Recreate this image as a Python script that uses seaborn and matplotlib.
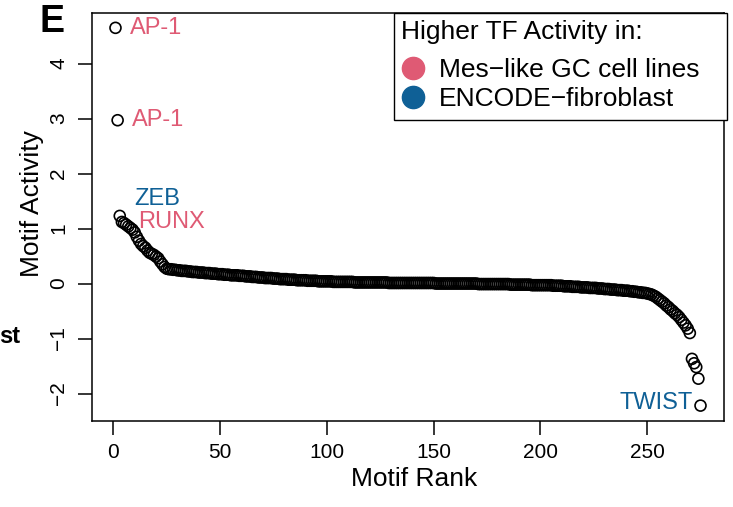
import matplotlib
matplotlib.use("Agg")  # headless
import matplotlib.pyplot as plt
from matplotlib.lines import Line2D
from matplotlib.patches import Rectangle
import seaborn as sns
import pandas as pd

sns.set_theme(style="ticks")
plt.rcParams["font.family"] = ["Liberation Sans", "DejaVu Sans"]
plt.rcParams["axes.unicode_minus"] = True
plt.rcParams["text.color"] = "black"
plt.rcParams["axes.labelcolor"] = "black"
plt.rcParams["xtick.color"] = "black"
plt.rcParams["ytick.color"] = "black"
plt.rcParams["axes.edgecolor"] = "black"

PINK = "#DF5A74"
BLUE = "#0F6096"

# motif activity, sorted by rank (1..275)
head = [4.65, 2.97, 1.23, 1.12, 1.10, 1.07, 1.04, 1.01, 0.98, 0.93,
        0.85, 0.78, 0.72, 0.68, 0.65, 0.60, 0.56, 0.54, 0.52, 0.49,
        0.46, 0.40, 0.35, 0.30, 0.27]
shoulder = [0.26, 0.26, 0.25, 0.25, 0.24, 0.24, 0.23, 0.23, 0.23, 0.22,
            0.22, 0.21, 0.21, 0.21, 0.20, 0.20, 0.20, 0.19, 0.19, 0.19,
            0.18, 0.18, 0.18, 0.17, 0.17]
early = [0.17, 0.16, 0.16, 0.16, 0.15, 0.15, 0.15, 0.15, 0.14, 0.14,
         0.14, 0.13, 0.13, 0.13, 0.12, 0.12, 0.12, 0.11, 0.11, 0.11,
         0.10, 0.10, 0.10, 0.10, 0.09, 0.09, 0.09, 0.08, 0.08, 0.08,
         0.08, 0.07, 0.07, 0.07, 0.07, 0.06, 0.06, 0.06, 0.06, 0.06,
         0.05, 0.05, 0.05, 0.05, 0.05, 0.04, 0.04, 0.04, 0.04, 0.04]
middle = [0.04, 0.04, 0.03, 0.03, 0.03, 0.03, 0.03, 0.03, 0.03, 0.03,
          0.03, 0.03, 0.02, 0.02, 0.02, 0.02, 0.02, 0.02, 0.02, 0.02,
          0.02, 0.02, 0.02, 0.02, 0.02, 0.02, 0.02, 0.02, 0.01, 0.01,
          0.01, 0.01, 0.01, 0.01, 0.01, 0.01, 0.01, 0.01, 0.01, 0.01,
          0.01, 0.01, 0.01, 0.01, 0.01, 0.01, 0.01, 0.01, 0.01, 0.01,
          0.00, 0.00, 0.00, 0.00, 0.00, 0.00, 0.00, 0.00, 0.00, 0.00,
          0.00, 0.00, 0.00, 0.00, 0.00, 0.00, 0.00, 0.00, 0.00, 0.00,
          -0.01, -0.01, -0.01, -0.01, -0.01, -0.01, -0.01, -0.01, -0.01, -0.01,
          -0.01, -0.01, -0.01, -0.01, -0.01, -0.02, -0.02, -0.02, -0.02, -0.02,
          -0.02, -0.02, -0.02, -0.02, -0.02, -0.03, -0.03, -0.03, -0.03, -0.03]
late = [-0.03, -0.03, -0.03, -0.03, -0.03, -0.04, -0.04, -0.04, -0.04, -0.04,
        -0.05, -0.05, -0.05, -0.05, -0.06, -0.06, -0.06, -0.06, -0.07, -0.07,
        -0.07, -0.07, -0.08, -0.08, -0.08, -0.08, -0.09, -0.09, -0.09, -0.10,
        -0.10, -0.10, -0.11, -0.11, -0.11, -0.12, -0.12, -0.12, -0.13, -0.13]
tail = [-0.13, -0.14, -0.14, -0.15, -0.15, -0.16, -0.16, -0.17, -0.17, -0.18,
        -0.19, -0.20, -0.22, -0.24, -0.27, -0.30, -0.33, -0.36, -0.40, -0.43,
        -0.47, -0.50, -0.54, -0.57, -0.61, -0.66, -0.71, -0.76, -0.82, -0.90,
        -1.37, -1.45, -1.52, -1.73, -2.22]

activity = head + shoulder + early + middle + late + tail
rank = list(range(1, len(activity) + 1))
df = pd.DataFrame({"rank": rank, "activity": activity})

# labelled motifs
label_names = ["AP-1", "AP-1", "ZEB", "RUNX", "TWIST"]
label_ranks = [1, 2, 3, 4, 275]
label_colors = [PINK, PINK, BLUE, PINK, BLUE]
label_offsets = [(14, 0), (14, 0), (14, 17), (16, 0), (-8, 3)]  # pixels
label_ha = ["left", "left", "left", "left", "right"]

legend_title = "Higher TF Activity in:"
legend_labels = ["Mes\u2212like GC cell lines", "ENCODE\u2212fibroblast"]
legend_colors = [PINK, BLUE]

fig = plt.figure(figsize=(7.33, 5.07), dpi=100)
ax = fig.add_axes([92 / 733, 1 - 421 / 507, (724 - 92) / 733, (421 - 13) / 507])

sns.scatterplot(data=df, x="rank", y="activity", ax=ax, marker="o", s=62,
                facecolor="none", edgecolor="black", linewidth=1.2, zorder=3)

for name, r, col, off, ha in zip(label_names, label_ranks, label_colors, label_offsets, label_ha):
    ax.annotate(name, (r, activity[r - 1]), xytext=off, textcoords="offset pixels",
                color=col, fontsize=17, ha=ha, va="center")

ax.set_xlim(-10, 286)
ax.set_ylim(-2.50, 4.92)
ax.set_xticks([0, 50, 100, 150, 200, 250])
ax.set_yticks([-2, -1, 0, 1, 2, 3, 4])
ax.tick_params(axis="both", direction="out", length=10, width=1.1, labelsize=15, colors="black")
ax.tick_params(axis="x", pad=6)
ax.tick_params(axis="y", pad=7)
for lab in ax.get_yticklabels():
    lab.set_rotation(90)
    lab.set_va("center")
for sp in ax.spines.values():
    sp.set_visible(True)
    sp.set_linewidth(1.1)
    sp.set_color("black")

ax.set_xlabel("Motif Rank", fontsize=19)
ax.set_ylabel("Motif Activity", fontsize=19)
ax.xaxis.set_label_coords((414 - 92) / 632, -0.113)
ax.yaxis.set_label_coords((44 - 92) / 632, (421 - 204) / 408)

# legend box (R-style: wide frame, title on top)
ax.add_patch(Rectangle(((394 - 92) / 632, (421 - 120) / 408), (727 - 394) / 632, 107 / 408,
                       transform=ax.transAxes, facecolor="white", edgecolor="black",
                       linewidth=1.0, clip_on=False, zorder=4))
ax.text((401 - 92) / 632, (421 - 32) / 408, legend_title, transform=ax.transAxes,
        fontsize=19, ha="left", va="center", zorder=6)
handles = [Line2D([], [], marker="o", linestyle="none", markersize=16,
                  markerfacecolor=c, markeredgecolor=c) for c in legend_colors]
leg = ax.legend(handles, legend_labels, loc="upper left",
                bbox_to_anchor=((402 - 92) / 632, (421 - 58) / 408), borderaxespad=0,
                fontsize=19, frameon=False, handlelength=0.85, handletextpad=0.55,
                borderpad=0, labelspacing=0.19)
leg.set_zorder(6)

fig.text(40 / 733, 1 - 32 / 507, "E", fontsize=27, fontweight="bold", va="baseline")
fig.text(-1 / 733, 1 - 343 / 507, "st", fontsize=17, fontweight="bold", va="baseline")

fig.savefig("out.png", dpi=100)
